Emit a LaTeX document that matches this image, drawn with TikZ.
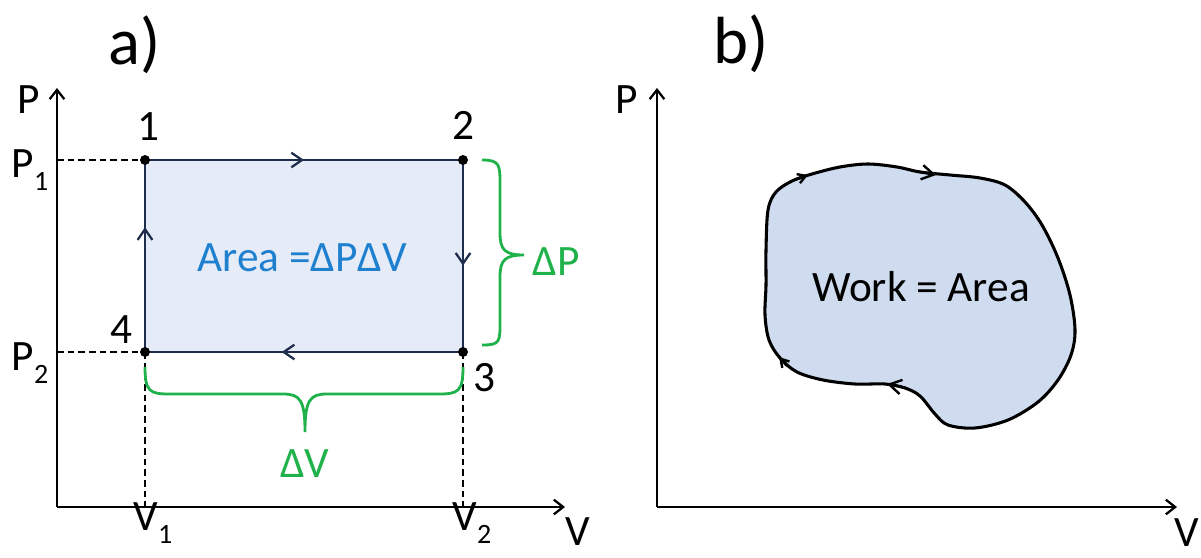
\documentclass[tikz,border=0pt]{standalone}
\usepackage{fontspec}
\setmainfont{Carlito}
\usetikzlibrary{arrows.meta,decorations.markings}
\definecolor{boxfill}{HTML}{E6ECF7}
\definecolor{boxline}{HTML}{1F2D4D}
\definecolor{bracegreen}{HTML}{1FB24A}
\definecolor{areablue}{HTML}{1F80D0}
\definecolor{blobfill}{HTML}{CFDCEF}
\newcommand{\lowsub}[1]{\raisebox{-0.3em}{\fontsize{21}{21}\selectfont #1}}
\tikzset{
  axis/.style={line width=2.1pt,-{Straight Barb[length=7pt,width=11pt,line width=1.7pt]}},
  guide/.style={line width=1.1pt,dash pattern=on 5pt off 3pt},
  cornerdot/.style={circle,fill=black,inner sep=0pt,minimum size=7.5pt},
  lbl/.style={font=\fontsize{32.5}{36}\selectfont,inner sep=0pt},
  panel/.style={font=\fontsize{50}{54}\selectfont,inner sep=0pt},
  edge/.style={boxline,line width=2.2pt},
  midarrow/.style={postaction={decorate},decoration={markings,
    mark=at position #1 with {\arrow{Straight Barb[length=8pt,width=11pt,line width=1.7pt]}}}},
  brace/.style={bracegreen,line width=2.1pt},
  blobarrow/.style={line width=1.8pt,-{Straight Barb[length=#1,width=1.2*#1]}},
}
\begin{document}
\begin{tikzpicture}[x=0.75pt,y=-0.75pt]
\useasboundingbox (0,0) rectangle (1201,557);
% panel a: rectangular cycle
\node[panel] (pa) at (135,45) {a)};
\coordinate (oa) at (57,507);
\draw[axis] (oa) -- (57,88);
\draw[axis] (oa) -- (565,507);
\node[lbl] (pla) at (29,100) {P};
\node[lbl] (vla) at (578,532) {V};
\coordinate (c1) at (145,160);
\coordinate (c2) at (463,160);
\coordinate (c3) at (463,352);
\coordinate (c4) at (145,352);
\fill[boxfill] (c1) rectangle (c3);
\draw[guide] (57,160) -- (c1);
\draw[guide] (57,352) -- (c4);
\draw[guide] (c4) -- (145,507);
\draw[guide] (c3) -- (463,507);
\draw[edge,midarrow=0.5] (c1) -- (c2);
\draw[edge,midarrow=0.55] (c2) -- (c3);
\draw[edge,midarrow=0.57] (c3) -- (c4);
\draw[edge,midarrow=0.65] (c4) -- (c1);
\foreach \c in {c1,c2,c3,c4} \node[cornerdot] at (\c) {};
\node[lbl] (n1) at (148,127) {1};
\node[lbl] (n2) at (463,125) {2};
\node[lbl] (n3) at (484,378) {3};
\node[lbl] (n4) at (121,330) {4};
\node[lbl] (p1) at (30,170) {P\lowsub{1}};
\node[lbl] (p2) at (30,363) {P\lowsub{2}};
\node[lbl] (v1) at (153,523) {V\lowsub{1}};
\node[lbl] (v2) at (472,523) {V\lowsub{2}};
\node[lbl,text=areablue] (area) at (302,258) {Area =ΔPΔV};
% braces
\draw[brace] (482,160) .. controls (500,160) and (500,165) .. (500,185) -- (500,233)
  .. controls (500,250) and (505,255) .. (524,255)
  .. controls (505,255) and (500,260) .. (500,277) -- (500,322)
  .. controls (500,342) and (500,345) .. (482,345);
\draw[brace] (145,367) .. controls (145,392) and (150,394) .. (170,394) -- (283,394)
  .. controls (300,394) and (305,400) .. (305,432)
  .. controls (305,400) and (310,394) .. (327,394) -- (438,394)
  .. controls (458,394) and (463,392) .. (463,367);
\node[lbl,text=bracegreen] (dp) at (556,262) {ΔP};
\node[lbl,text=bracegreen] (dv) at (305,464) {ΔV};
% panel b: general cycle
\node[panel] (pb) at (741,44) {b)};
\coordinate (ob) at (657,507);
\draw[axis] (ob) -- (657,88);
\draw[axis] (ob) -- (1177,507);
\node[lbl] (plb) at (627,100) {P};
\node[lbl] (vlb) at (1187,533) {V};
\draw[line width=2.3pt,fill=blobfill] plot[smooth cycle,tension=0.55] coordinates {
  (766,250) (768,210) (776,192) (792,181) (812,174) (840,167) (868,164) (897,167)
  (920,172) (950,175) (980,178) (1005,185) (1025,202) (1042,225) (1058,258)
  (1070,295) (1075,330) (1071,355) (1058,380) (1038,402) (1008,420) (975,428)
  (948,425) (935,414) (920,396) (905,388) (885,384) (855,384) (823,380)
  (797,372) (780,358) (769,340) (765,315) (766,285)};
\draw[blobarrow=9pt] (918,171.5) -- (936,175);
\draw[blobarrow=9pt] (906,388) -- (887,384);
\draw[blobarrow=6pt] (796,179.5) -- (808,175);
\draw[blobarrow=6pt] (787,366) -- (779,357);
\node[lbl] (work) at (921,287) {Work = Area};
\end{tikzpicture}
\end{document}
